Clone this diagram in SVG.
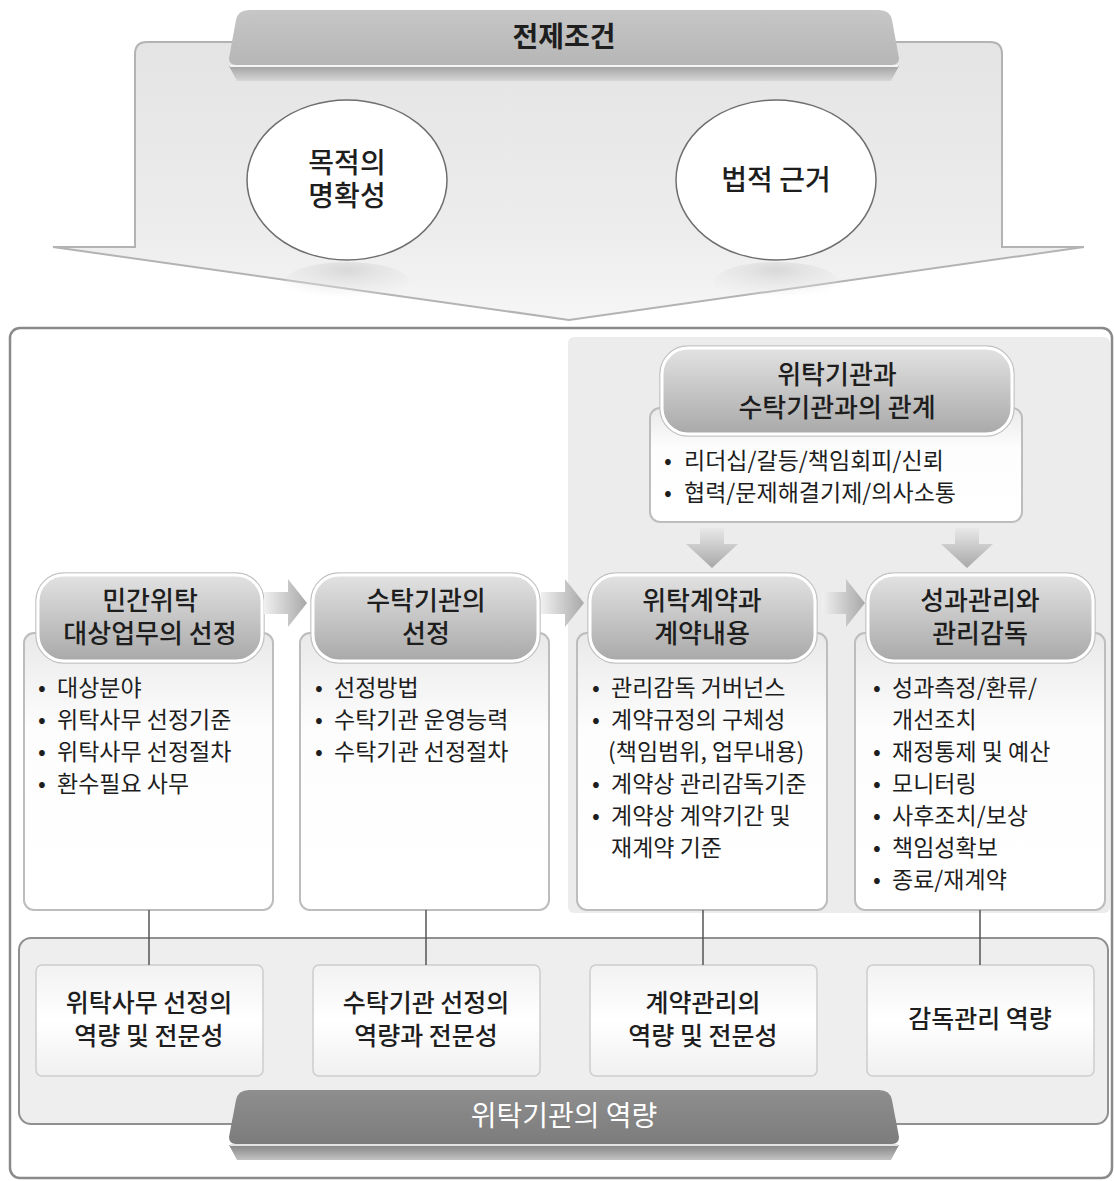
<svg xmlns="http://www.w3.org/2000/svg" width="1114" height="1181" viewBox="0 0 1114 1181">
<defs>
<linearGradient id="gTop" x1="0" y1="0" x2="0" y2="1"><stop offset="0" stop-color="#e4e4e4"/><stop offset="0.7" stop-color="#ededed"/><stop offset="1" stop-color="#f6f6f6"/></linearGradient>
<linearGradient id="gPill" x1="0" y1="0" x2="0" y2="1"><stop offset="0" stop-color="#e2e2e2"/><stop offset="1" stop-color="#a9a9a9"/></linearGradient>
<linearGradient id="gPillTop" x1="0" y1="0" x2="0" y2="1"><stop offset="0" stop-color="#c6c6c6"/><stop offset="1" stop-color="#b6b6b6"/></linearGradient>
<linearGradient id="gBand" x1="0" y1="0" x2="0" y2="1"><stop offset="0" stop-color="#a2a2a2"/><stop offset="1" stop-color="#d6d6d6"/></linearGradient>
<linearGradient id="gDark" x1="0" y1="0" x2="0" y2="1"><stop offset="0" stop-color="#8e8e8e"/><stop offset="1" stop-color="#7c7c7c"/></linearGradient>
<linearGradient id="gDarkBand" x1="0" y1="0" x2="0" y2="1"><stop offset="0" stop-color="#868686"/><stop offset="1" stop-color="#c2c2c2"/></linearGradient>
<linearGradient id="gBox" x1="0" y1="0" x2="0" y2="1"><stop offset="0" stop-color="#e9e9e9"/><stop offset="0.35" stop-color="#fdfdfd"/><stop offset="1" stop-color="#ffffff"/></linearGradient>
<linearGradient id="gCap" x1="0" y1="0" x2="0" y2="1"><stop offset="0" stop-color="#f2f2f2"/><stop offset="0.5" stop-color="#ffffff"/><stop offset="1" stop-color="#f0f0f0"/></linearGradient>
<linearGradient id="gArrR" x1="0" y1="0" x2="1" y2="0"><stop offset="0" stop-color="#f0f0f0"/><stop offset="1" stop-color="#a8a8a8"/></linearGradient>
<linearGradient id="gArrD" x1="0" y1="0" x2="0" y2="1"><stop offset="0" stop-color="#e8e8e8"/><stop offset="1" stop-color="#a8a8a8"/></linearGradient>
<radialGradient id="gRefl" cx="0.5" cy="0.2" r="0.7"><stop offset="0" stop-color="#d8d8d8"/><stop offset="1" stop-color="#e8e8e8" stop-opacity="0"/></radialGradient>
</defs>
<style>
text{font-family:"Noto Sans CJK KR","Noto Sans",sans-serif;fill:#1e1e1e}
.hd{font-size:26px;font-weight:500;text-anchor:middle}
.el{font-size:28px;font-weight:500;text-anchor:middle}
.bl{font-size:23px}
.bt{font-size:25px;font-weight:500;text-anchor:middle}
.pill{fill:url(#gPill);stroke:#ffffff;stroke-width:3}
.pillo{fill:none;stroke:#c2c2c2;stroke-width:1.5}
.box{fill:url(#gBox);stroke:#bdbdbd;stroke-width:2}
.cap{fill:url(#gCap);stroke:#cdcdcd;stroke-width:1.5}
.arrR{fill:url(#gArrR)}
.arrD{fill:url(#gArrD)}
.ln{stroke:#555;stroke-width:1.5;fill:none}
</style>

<g id="premise">
<path d="M135 54 Q135 42 147 42 L990 42 Q1002 42 1002 54 L1002 247 L1084 247 L569 320 L53 247 L135 247 Z" fill="url(#gTop)" stroke="#b3b3b3" stroke-width="2"/>
<ellipse cx="347" cy="282" rx="62" ry="20" fill="url(#gRefl)"/>
<ellipse cx="776" cy="282" rx="62" ry="20" fill="url(#gRefl)"/>
<path d="M229 66 L899 66 L891 81 L237 81 Z" fill="url(#gBand)"/>
<line x1="230" y1="66" x2="898" y2="66" stroke="#f4f4f4" stroke-width="2"/>
<path d="M249 10 L879 10 Q890 10 892 20 L899 58 Q899 65 892 65 L236 65 Q229 65 229 58 L236 20 Q238 10 249 10 Z" fill="url(#gPillTop)"/>
<text class="hd" x="564" y="47" style="font-size:28px;font-weight:700">전제조건</text>
</g>

<g id="purpose">
<ellipse cx="347" cy="180" rx="100" ry="80" fill="#ffffff" stroke="#6e6e6e" stroke-width="1.5"/>
<text class="el"><tspan x="347" y="173">목적의</tspan><tspan x="347" y="206">명확성</tspan></text>
</g>

<g id="legal">
<ellipse cx="776" cy="180" rx="100" ry="80" fill="#ffffff" stroke="#6e6e6e" stroke-width="1.5"/>
<text class="el" x="776" y="190">법적 근거</text>
</g>

<g id="container">
<rect x="10" y="328" width="1102" height="850" rx="10" fill="#ffffff" stroke="#8a8a8a" stroke-width="2.5"/>
<rect x="568" y="337" width="542" height="576" rx="6" fill="#ececec"/>
</g>

<g id="relation">
<rect class="box" x="650" y="408" width="372" height="114" rx="10"/>
<rect class="pillo" x="660" y="346" width="354" height="90" rx="28"/>
<rect class="pill" x="662" y="348" width="350" height="86" rx="26"/>
<text class="hd"><tspan x="837" y="384">위탁기관과</tspan><tspan x="837" y="417">수탁기관과의 관계</tspan></text>
<text class="bl" y="469"><tspan x="664">•</tspan><tspan x="684">리더십/갈등/책임회피/신뢰</tspan></text>
<text class="bl" y="501"><tspan x="664">•</tspan><tspan x="684">협력/문제해결기제/의사소통</tspan></text>
</g>

<g id="col1">
<rect class="box" x="24" y="633" width="249" height="277" rx="10"/>
<rect class="pillo" x="36" y="573" width="228" height="90" rx="28"/>
<rect class="pill" x="38" y="575" width="224" height="86" rx="26"/>
<text class="hd"><tspan x="150" y="610">민간위탁</tspan><tspan x="150" y="643">대상업무의 선정</tspan></text>
<text class="bl" y="696"><tspan x="38">•</tspan><tspan x="57">대상분야</tspan></text>
<text class="bl" y="728"><tspan x="38">•</tspan><tspan x="57">위탁사무 선정기준</tspan></text>
<text class="bl" y="760"><tspan x="38">•</tspan><tspan x="57">위탁사무 선정절차</tspan></text>
<text class="bl" y="792"><tspan x="38">•</tspan><tspan x="57">환수필요 사무</tspan></text>
</g>

<g id="col2">
<rect class="box" x="300" y="633" width="249" height="277" rx="10"/>
<rect class="pillo" x="311" y="573" width="229" height="90" rx="28"/>
<rect class="pill" x="313" y="575" width="225" height="86" rx="26"/>
<text class="hd"><tspan x="426" y="610">수탁기관의</tspan><tspan x="426" y="643">선정</tspan></text>
<text class="bl" y="696"><tspan x="315">•</tspan><tspan x="334">선정방법</tspan></text>
<text class="bl" y="728"><tspan x="315">•</tspan><tspan x="334">수탁기관 운영능력</tspan></text>
<text class="bl" y="760"><tspan x="315">•</tspan><tspan x="334">수탁기관 선정절차</tspan></text>
</g>

<g id="col3">
<rect class="box" x="577" y="633" width="250" height="277" rx="10"/>
<rect class="pillo" x="588" y="573" width="229" height="90" rx="28"/>
<rect class="pill" x="590" y="575" width="225" height="86" rx="26"/>
<text class="hd"><tspan x="702" y="610">위탁계약과</tspan><tspan x="702" y="643">계약내용</tspan></text>
<text class="bl" y="696"><tspan x="592">•</tspan><tspan x="611">관리감독 거버넌스</tspan></text>
<text class="bl" y="728"><tspan x="592">•</tspan><tspan x="611">계약규정의 구체성</tspan></text>
<text class="bl" y="760"><tspan x="608">(책임범위, 업무내용)</tspan></text>
<text class="bl" y="792"><tspan x="592">•</tspan><tspan x="611">계약상 관리감독기준</tspan></text>
<text class="bl" y="824"><tspan x="592">•</tspan><tspan x="611">계약상 계약기간 및</tspan></text>
<text class="bl" y="856"><tspan x="611">재계약 기준</tspan></text>
</g>

<g id="col4">
<rect class="box" x="855" y="633" width="250" height="277" rx="10"/>
<rect class="pillo" x="866" y="573" width="229" height="90" rx="28"/>
<rect class="pill" x="868" y="575" width="225" height="86" rx="26"/>
<text class="hd"><tspan x="980" y="610">성과관리와</tspan><tspan x="980" y="643">관리감독</tspan></text>
<text class="bl" y="696"><tspan x="873">•</tspan><tspan x="892">성과측정/환류/</tspan></text>
<text class="bl" y="728"><tspan x="892">개선조치</tspan></text>
<text class="bl" y="760"><tspan x="873">•</tspan><tspan x="892">재정통제 및 예산</tspan></text>
<text class="bl" y="792"><tspan x="873">•</tspan><tspan x="892">모니터링</tspan></text>
<text class="bl" y="824"><tspan x="873">•</tspan><tspan x="892">사후조치/보상</tspan></text>
<text class="bl" y="856"><tspan x="873">•</tspan><tspan x="892">책임성확보</tspan></text>
<text class="bl" y="888"><tspan x="873">•</tspan><tspan x="892">종료/재계약</tspan></text>
</g>

<g id="capacity">
<rect x="19" y="938" width="1089" height="186" rx="12" fill="#eeeeee" stroke="#909090" stroke-width="2"/>
<path d="M229 1145 L899 1145 L891 1160 L237 1160 Z" fill="url(#gDarkBand)"/>
<line x1="230" y1="1145" x2="898" y2="1145" stroke="#e4e4e4" stroke-width="2"/>
<path d="M249 1090 L879 1090 Q890 1090 892 1100 L899 1137 Q899 1144 892 1144 L236 1144 Q229 1144 229 1137 L236 1100 Q238 1090 249 1090 Z" fill="url(#gDark)"/>
<text class="bt" x="564" y="1126" style="fill:#ffffff;font-size:28px;font-weight:400">위탁기관의 역량</text>
</g>

<g id="cap1">
<rect class="cap" x="36" y="965" width="227" height="111" rx="6"/>
<text class="bt"><tspan x="149" y="1012">위탁사무 선정의</tspan><tspan x="149" y="1045">역량 및 전문성</tspan></text>
</g>
<g id="cap2">
<rect class="cap" x="313" y="965" width="227" height="111" rx="6"/>
<text class="bt"><tspan x="426" y="1012">수탁기관 선정의</tspan><tspan x="426" y="1045">역량과 전문성</tspan></text>
</g>
<g id="cap3">
<rect class="cap" x="590" y="965" width="227" height="111" rx="6"/>
<text class="bt"><tspan x="703" y="1012">계약관리의</tspan><tspan x="703" y="1045">역량 및 전문성</tspan></text>
</g>
<g id="cap4">
<rect class="cap" x="867" y="965" width="227" height="111" rx="6"/>
<text class="bt" x="980" y="1028">감독관리 역량</text>
</g>

<g id="connectors">
<path class="arrR" d="M264 592 L288 592 L288 579 L307 603 L288 627 L288 614 L264 614 Z"/>
<path class="arrR" d="M541 592 L565 592 L565 579 L584 603 L565 627 L565 614 L541 614 Z"/>
<path class="arrR" d="M822 592 L846 592 L846 579 L865 603 L846 627 L846 614 L822 614 Z"/>
<path class="arrD" d="M700 528 L724 528 L724 544 L738 544 L712 568 L686 544 L700 544 Z"/>
<path class="arrD" d="M955 528 L979 528 L979 544 L993 544 L967 568 L941 544 L955 544 Z"/>
<line class="ln" x1="149" y1="910" x2="149" y2="965"/>
<line class="ln" x1="426" y1="910" x2="426" y2="965"/>
<line class="ln" x1="703" y1="910" x2="703" y2="965"/>
<line class="ln" x1="980" y1="910" x2="980" y2="965"/>
</g>
</svg>
